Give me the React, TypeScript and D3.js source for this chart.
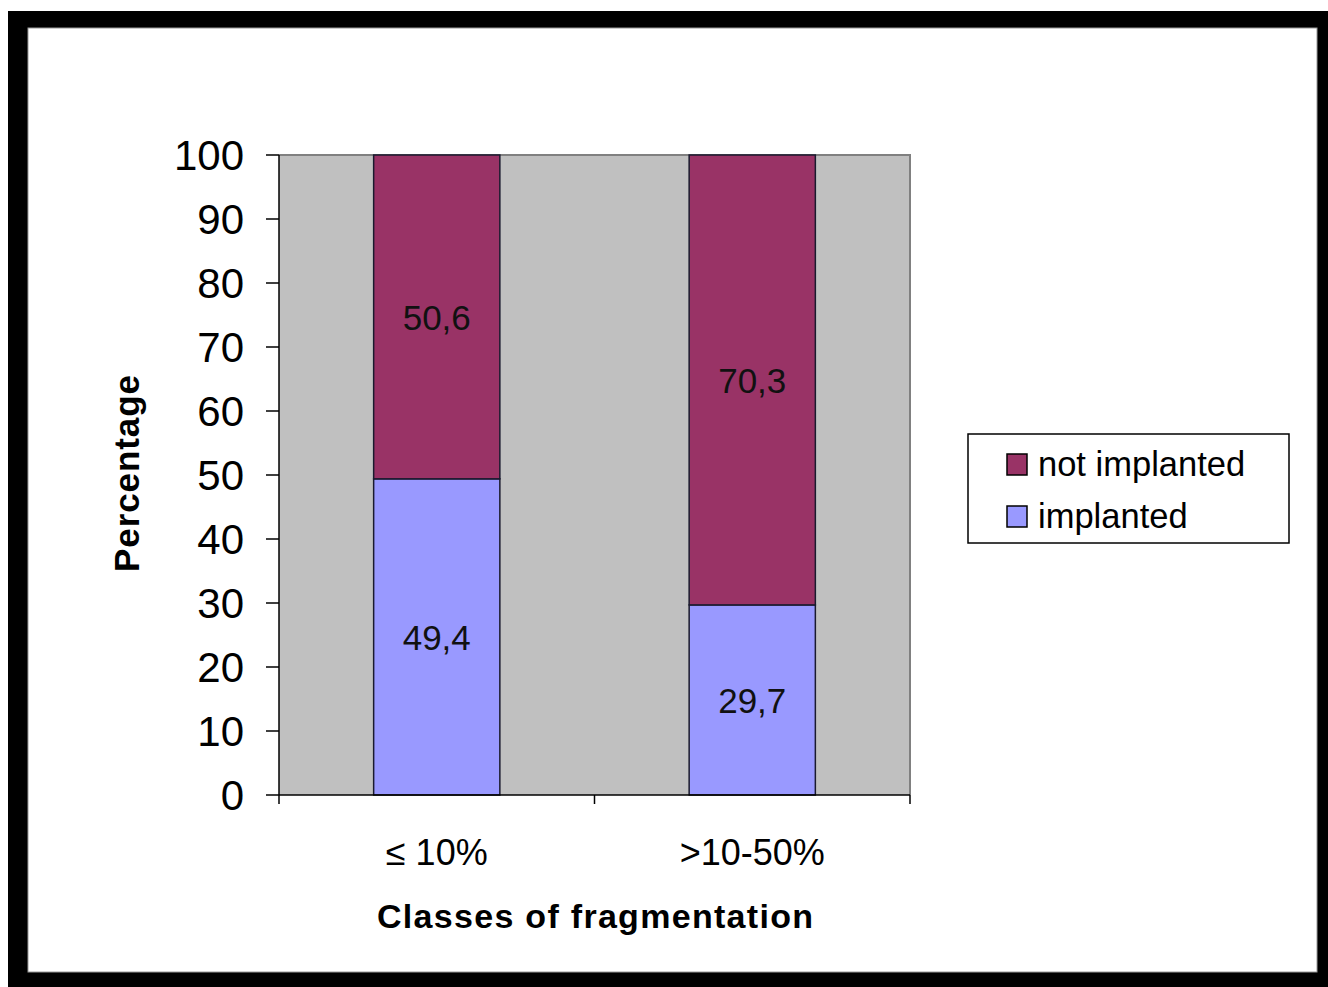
import { useEffect, useRef } from 'react'
import * as d3 from 'd3'

// Chart data
const categories = ['≤ 10%', '>10-50%']
const implanted = [49.4, 29.7]
const notImplanted = [50.6, 70.3]
const seriesNames = ['not implanted', 'implanted']
const seriesColors = ['#993366', '#9999FF']
const yTicks = [0, 10, 20, 30, 40, 50, 60, 70, 80, 90, 100]

const W = 1328
const H = 987
const FONT = '"Liberation Sans", Arial, sans-serif'

export default function App() {
  const svgRef = useRef<SVGSVGElement>(null)

  useEffect(() => {
    if (!svgRef.current) return
    const svg = d3.select(svgRef.current)
    svg.selectAll('*').remove()

    // Frame
    svg.append('rect').attr('x', 0).attr('y', 0).attr('width', W).attr('height', H).attr('fill', '#fff')
    svg.append('rect').attr('x', 8).attr('y', 11).attr('width', W - 8).attr('height', H - 11).attr('fill', '#000')
    svg.append('rect')
      .attr('x', 28).attr('y', 28).attr('width', 1289).attr('height', 944)
      .attr('fill', '#fff').attr('stroke', '#999').attr('stroke-width', 1)

    const plot = { left: 279, right: 910, top: 155, bottom: 795 }

    const x = d3.scaleBand<string>()
      .domain(categories)
      .range([plot.left, plot.right])
      .paddingInner(0.6)
      .paddingOuter(0.3)

    const y = d3.scaleLinear().domain([0, 100]).range([plot.bottom, plot.top])

    // Plot area
    svg.append('rect')
      .attr('x', plot.left).attr('y', plot.top)
      .attr('width', plot.right - plot.left).attr('height', plot.bottom - plot.top)
      .attr('fill', '#C0C0C0')
    svg.append('path')
      .attr('d', `M${plot.left},${plot.top}H${plot.right}V${plot.bottom}`)
      .attr('fill', 'none').attr('stroke', '#808080').attr('stroke-width', 2)

    // Stacked bars
    const stackData = categories.map((c, i) => ({ cat: c, implanted: implanted[i], notImplanted: notImplanted[i] }))
    const stack = d3.stack<any>().keys(['implanted', 'notImplanted'])(stackData)
    const colorFor: Record<string, string> = { implanted: seriesColors[1], notImplanted: seriesColors[0] }

    stack.forEach((layer) => {
      const g = svg.append('g')
      layer.forEach((d) => {
        const cat = d.data.cat
        g.append('rect')
          .attr('x', x(cat)!)
          .attr('y', y(d[1]))
          .attr('width', x.bandwidth())
          .attr('height', y(d[0]) - y(d[1]))
          .attr('fill', colorFor[layer.key])
          .attr('stroke', '#1a1a2e')
          .attr('stroke-width', 1.5)
        const v = d[1] - d[0]
        g.append('text')
          .attr('x', x(cat)! + x.bandwidth() / 2)
          .attr('y', y((d[0] + d[1]) / 2))
          .attr('dy', '0.36em')
          .attr('text-anchor', 'middle')
          .attr('font-family', FONT)
          .attr('font-size', 35)
          .attr('fill', '#111')
          .text(v.toFixed(1).replace('.', ','))
      })
    })

    // Y axis
    const yAxis = svg.append('g')
    yAxis.append('line')
      .attr('x1', plot.left).attr('x2', plot.left)
      .attr('y1', plot.top).attr('y2', plot.bottom)
      .attr('stroke', '#000').attr('stroke-width', 1.5)
    yTicks.forEach((t) => {
      yAxis.append('line')
        .attr('x1', plot.left - 13).attr('x2', plot.left)
        .attr('y1', y(t)).attr('y2', y(t))
        .attr('stroke', '#000').attr('stroke-width', 1.5)
      yAxis.append('text')
        .attr('x', plot.left - 35)
        .attr('y', y(t))
        .attr('dy', '0.36em')
        .attr('text-anchor', 'end')
        .attr('font-family', FONT)
        .attr('font-size', 42)
        .attr('fill', '#000')
        .text(t)
    })

    // X axis
    const xAxis = svg.append('g')
    xAxis.append('line')
      .attr('x1', plot.left).attr('x2', plot.right)
      .attr('y1', plot.bottom).attr('y2', plot.bottom)
      .attr('stroke', '#000').attr('stroke-width', 1.5)
    const bounds = [plot.left, ...categories.map((c) => x(c)! + x.bandwidth() / 2 + x.step() / 2)]
    bounds.forEach((bx) => {
      xAxis.append('line')
        .attr('x1', bx).attr('x2', bx)
        .attr('y1', plot.bottom).attr('y2', plot.bottom + 9)
        .attr('stroke', '#000').attr('stroke-width', 1.5)
    })
    categories.forEach((c) => {
      xAxis.append('text')
        .attr('x', x(c)! + x.bandwidth() / 2)
        .attr('y', 865)
        .attr('text-anchor', 'middle')
        .attr('font-family', FONT)
        .attr('font-size', 36)
        .attr('fill', '#000')
        .text(c)
    })

    // Axis titles
    svg.append('text')
      .attr('x', 595)
      .attr('y', 928)
      .attr('text-anchor', 'middle')
      .attr('font-family', FONT)
      .attr('font-weight', 'bold')
      .attr('font-size', 34)
      .attr('textLength', 436)
      .attr('lengthAdjust', 'spacing')
      .attr('fill', '#000')
      .text('Classes of fragmentation')

    svg.append('text')
      .attr('transform', `translate(139,${(375 + 572) / 2}) rotate(-90)`)
      .attr('text-anchor', 'middle')
      .attr('font-family', FONT)
      .attr('font-weight', 'bold')
      .attr('font-size', 35)
      .attr('textLength', 197)
      .attr('lengthAdjust', 'spacing')
      .attr('fill', '#000')
      .text('Percentage')

    // Legend
    const legend = svg.append('g')
    legend.append('rect')
      .attr('x', 968).attr('y', 434).attr('width', 321).attr('height', 109)
      .attr('fill', '#fff').attr('stroke', '#000').attr('stroke-width', 1.5)
    seriesNames.forEach((name, i) => {
      const cy = 464 + i * 52
      legend.append('rect')
        .attr('x', 1007).attr('y', cy - 10).attr('width', 20).attr('height', 21)
        .attr('fill', seriesColors[i]).attr('stroke', '#000').attr('stroke-width', 1.5)
      legend.append('text')
        .attr('x', 1038)
        .attr('y', cy)
        .attr('dy', '0.36em')
        .attr('font-family', FONT)
        .attr('font-size', 34.5)
        .attr('fill', '#000')
        .text(name)
    })
  }, [])

  return (
    <svg
      ref={svgRef}
      width={W}
      height={H}
      style={{ position: 'absolute', left: 0, top: 0, display: 'block' }}
    />
  )
}
